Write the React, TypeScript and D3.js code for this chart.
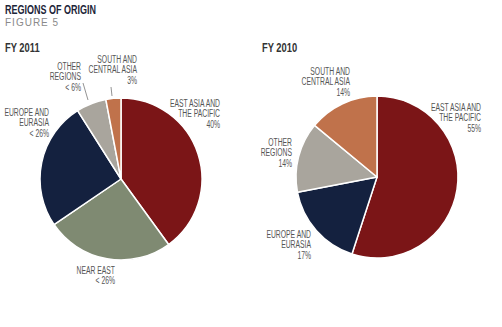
import React from "react";
import * as d3 from "d3";

const regions2011 = ["EAST ASIA AND THE PACIFIC", "NEAR EAST", "EUROPE AND EURASIA", "OTHER REGIONS", "SOUTH AND CENTRAL ASIA"];
const values2011 = [40, 25.5, 25.5, 6, 3];
const colors2011 = ["#7b1517", "#7f8a72", "#14213f", "#a9a59d", "#c0724b"];

const regions2010 = ["EAST ASIA AND THE PACIFIC", "EUROPE AND EURASIA", "OTHER REGIONS", "SOUTH AND CENTRAL ASIA"];
const values2010 = [55, 17, 14, 14];
const colors2010 = ["#7b1517", "#14213f", "#a9a59d", "#c0724b"];

const labels2011 = [
  { lines: ["EAST ASIA AND", "THE PACIFIC", "40%"], x: 220, y: 107 },
  { lines: ["NEAR EAST", "< 26%"], x: 115, y: 274 },
  { lines: ["EUROPE AND", "EURASIA", "< 26%"], x: 49, y: 116 },
  { lines: ["OTHER", "REGIONS", "< 6%"], x: 81, y: 70 },
  { lines: ["SOUTH AND", "CENTRAL ASIA", "3%"], x: 137, y: 63 },
];
const labels2010 = [
  { lines: ["EAST ASIA AND", "THE PACIFIC", "55%"], x: 481, y: 111 },
  { lines: ["EUROPE AND", "EURASIA", "17%"], x: 311, y: 238 },
  { lines: ["OTHER", "REGIONS", "14%"], x: 292, y: 146 },
  { lines: ["SOUTH AND", "CENTRAL ASIA", "14%"], x: 350, y: 75 },
];

const FONT = "'Liberation Sans', Arial, sans-serif";

function Pie({ cx, cy, r, values, colors }: { cx: number; cy: number; r: number; values: number[]; colors: string[] }) {
  const pie = d3.pie<number>().sort(null).value((d) => d);
  const arc = d3.arc<d3.PieArcDatum<number>>().innerRadius(0).outerRadius(r);
  const arcs = pie(values);
  return (
    <g transform={`translate(${cx},${cy})`}>
      {arcs.map((a, i) => (
        <path key={i} d={arc(a) || ""} fill={colors[i]} stroke="#ffffff" strokeWidth={1.5} strokeLinejoin="round" />
      ))}
    </g>
  );
}

function Labels({ items }: { items: { lines: string[]; x: number; y: number }[] }) {
  return (
    <g>
      {items.map((it, i) => (
        <g key={i} transform={`translate(${it.x},${it.y}) scale(0.68,1)`}>
          <text x={0} y={0} textAnchor="end" fontFamily={FONT} fontSize={10} fill="#555555">
            {it.lines.map((l, j) => (
              <tspan key={j} x={0} dy={j === 0 ? 0 : 10.5}>{l}</tspan>
            ))}
          </text>
        </g>
      ))}
    </g>
  );
}

function CText({ x, y, sx, children, ...rest }: any) {
  return (
    <g transform={`translate(${x},${y}) scale(${sx},1)`}>
      <text x={0} y={0} {...rest}>{children}</text>
    </g>
  );
}

export default function App() {
  return (
    <svg width={502} height={327} style={{ position: "absolute", left: 0, top: 0, background: "#ffffff" }}>
      <CText x={5} y={14} sx={0.75} fontFamily={FONT} fontWeight="bold" fontSize={12} fill="#1c2538">REGIONS OF ORIGIN</CText>
      <text x={5} y={26} fontFamily={FONT} fontSize={10} letterSpacing={1} fill="#8a8a8a">FIGURE 5</text>
      <CText x={5} y={52} sx={0.72} fontFamily={FONT} fontWeight="bold" fontSize={13} fill="#333333">FY 2011</CText>
      <CText x={262} y={52} sx={0.72} fontFamily={FONT} fontWeight="bold" fontSize={13} fill="#333333">FY 2010</CText>

      <Pie cx={121} cy={179} r={81} values={values2011} colors={colors2011} />
      <Pie cx={377} cy={177} r={81} values={values2010} colors={colors2010} />

      <line x1={111} y1={87} x2={112} y2={96} stroke="#777" strokeWidth={0.8} />
      <line x1={83} y1={83} x2={88} y2={100} stroke="#777" strokeWidth={0.8} />

      <Labels items={labels2011} />
      <Labels items={labels2010} />
    </svg>
  );
}
